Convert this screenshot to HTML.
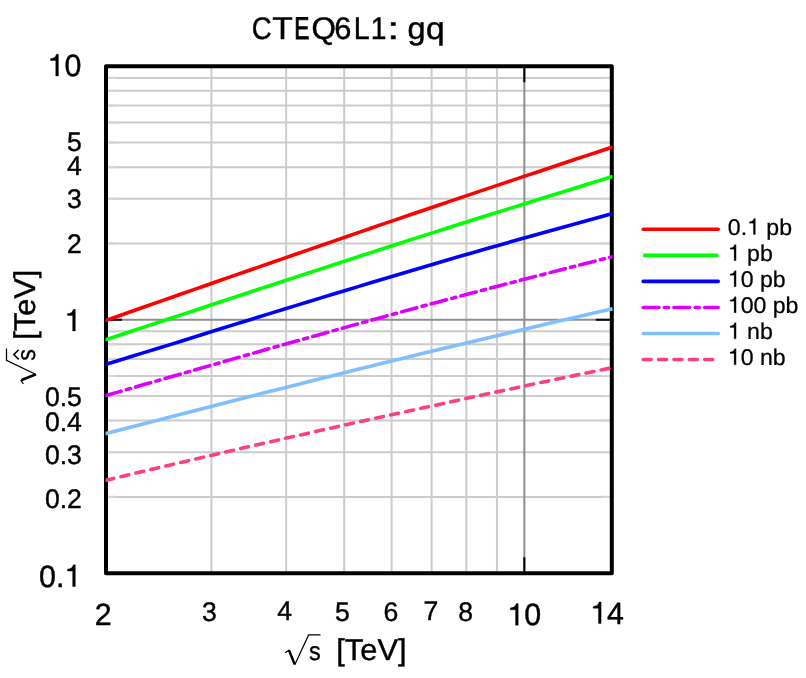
<!DOCTYPE html>
<html><head><meta charset="utf-8"><title>CTEQ6L1: gq</title>
<style>html,body{margin:0;padding:0;background:#fff;overflow:hidden}svg{display:block;will-change:transform}text{font-family:"Liberation Sans",sans-serif;fill:#000;text-rendering:geometricPrecision}</style></head>
<body>
<svg width="806" height="678" viewBox="0 0 806 678">
<rect width="806" height="678" fill="#fff"/>
<path d="M211.39,66.3 V573.2 M286.17,66.3 V573.2 M344.17,66.3 V573.2 M391.56,66.3 V573.2 M431.63,66.3 V573.2 M466.34,66.3 V573.2 M496.95,66.3 V573.2 M106.0,243.45 H611.8 M106.0,496.90 H611.8 M106.0,198.82 H611.8 M106.0,452.27 H611.8 M106.0,167.16 H611.8 M106.0,420.61 H611.8 M106.0,142.60 H611.8 M106.0,396.05 H611.8 M106.0,122.53 H611.8 M106.0,375.98 H611.8 M106.0,105.56 H611.8 M106.0,359.01 H611.8 M106.0,90.86 H611.8 M106.0,344.31 H611.8 M106.0,77.90 H611.8 M106.0,331.35 H611.8" stroke="#cccccc" stroke-width="2.0" fill="none"/>
<path d="M524.34,66.3 V573.2 M106.0,319.75 H611.8" stroke="#8e8e8e" stroke-width="2.0" fill="none"/>
<path d="M106.0,243.45 H116.2 M611.8,243.45 H601.5999999999999 M106.0,496.90 H116.2 M611.8,496.90 H601.5999999999999 M106.0,198.82 H116.2 M611.8,198.82 H601.5999999999999 M106.0,452.27 H116.2 M611.8,452.27 H601.5999999999999 M106.0,167.16 H116.2 M611.8,167.16 H601.5999999999999 M106.0,420.61 H116.2 M611.8,420.61 H601.5999999999999 M106.0,142.60 H116.2 M611.8,142.60 H601.5999999999999 M106.0,396.05 H116.2 M611.8,396.05 H601.5999999999999 M106.0,122.53 H116.2 M611.8,122.53 H601.5999999999999 M106.0,375.98 H116.2 M611.8,375.98 H601.5999999999999 M106.0,105.56 H116.2 M611.8,105.56 H601.5999999999999 M106.0,359.01 H116.2 M611.8,359.01 H601.5999999999999 M106.0,90.86 H116.2 M611.8,90.86 H601.5999999999999 M106.0,344.31 H116.2 M611.8,344.31 H601.5999999999999 M106.0,77.90 H116.2 M611.8,77.90 H601.5999999999999 M106.0,331.35 H116.2 M611.8,331.35 H601.5999999999999" stroke="#d6d6d6" stroke-width="2.2" fill="none"/>
<path d="M524.34,66.3 v16 M524.34,573.2 v-16 M106.0,319.75 h16 M611.8,319.75 h-16" stroke="#000" stroke-width="2.0" fill="none"/>
<rect x="106.0" y="66.3" width="505.80" height="506.90" fill="none" stroke="#000" stroke-width="4.0" stroke-linejoin="round"/>
<clipPath id="c"><rect x="105.5" y="66.3" width="507.00" height="506.90"/></clipPath>
<g clip-path="url(#c)" fill="none" stroke-linecap="round" stroke-linejoin="round">
<path d="M106.00,480.25 L118.64,477.21 L131.29,474.19 L143.94,471.17 L156.58,468.17 L169.22,465.19 L181.87,462.21 L194.51,459.25 L207.16,456.30 L219.81,453.36 L232.45,450.44 L245.09,447.53 L257.74,444.63 L270.38,441.74 L283.03,438.87 L295.67,436.00 L308.32,433.16 L320.97,430.32 L333.61,427.50 L346.25,424.68 L358.90,421.89 L371.55,419.10 L384.19,416.33 L396.83,413.57 L409.48,410.82 L422.12,408.08 L434.77,405.34 L447.41,402.57 L460.06,399.82 L472.70,397.08 L485.35,394.35 L498.00,391.63 L510.64,388.93 L523.28,386.23 L535.93,383.56 L548.58,380.90 L561.22,378.25 L573.87,375.62 L586.51,373.00 L599.15,370.39 L611.80,367.79" stroke="#ff4080" stroke-width="3.6" stroke-dasharray="8 7.37"/>
<path d="M106.00,433.56 L118.64,430.28 L131.29,427.01 L143.94,423.76 L156.58,420.51 L169.22,417.28 L181.87,414.05 L194.51,410.77 L207.16,407.51 L219.81,404.25 L232.45,401.01 L245.09,397.79 L257.74,394.57 L270.38,391.36 L283.03,388.17 L295.67,384.99 L308.32,381.80 L320.97,378.61 L333.61,375.44 L346.25,372.27 L358.90,369.12 L371.55,365.98 L384.19,362.85 L396.83,359.73 L409.48,356.63 L422.12,353.54 L434.77,350.48 L447.41,347.44 L460.06,344.41 L472.70,341.39 L485.35,338.38 L498.00,335.39 L510.64,332.40 L523.28,329.43 L535.93,326.47 L548.58,323.52 L561.22,320.59 L573.87,317.66 L586.51,314.75 L599.15,311.85 L611.80,308.96" stroke="#80bfff" stroke-width="3.6"/>
<path d="M106.00,395.55 L118.64,391.88 L131.29,388.21 L143.94,384.56 L156.58,380.93 L169.22,377.31 L181.87,373.69 L194.51,370.03 L207.16,366.39 L219.81,362.76 L232.45,359.14 L245.09,355.54 L257.74,351.95 L270.38,348.37 L283.03,344.81 L295.67,341.27 L308.32,337.72 L320.97,334.17 L333.61,330.64 L346.25,327.12 L358.90,323.61 L371.55,320.12 L384.19,316.65 L396.83,313.18 L409.48,309.74 L422.12,306.31 L434.77,302.91 L447.41,299.53 L460.06,296.17 L472.70,292.82 L485.35,289.48 L498.00,286.16 L510.64,282.85 L523.28,279.56 L535.93,276.28 L548.58,273.01 L561.22,269.76 L573.87,266.53 L586.51,263.31 L599.15,260.10 L611.80,256.91" stroke="#dd00ff" stroke-width="3.6" stroke-dasharray="15.7 5.5 4.2 5.32"/>
<path d="M106.00,364.34 L118.64,360.41 L131.29,356.50 L143.94,352.61 L156.58,348.73 L169.22,344.86 L181.87,340.99 L194.51,337.00 L207.16,333.03 L219.81,329.07 L232.45,325.13 L245.09,321.20 L257.74,317.30 L270.38,313.40 L283.03,309.52 L295.67,305.62 L308.32,301.73 L320.97,297.86 L333.61,294.01 L346.25,290.18 L358.90,286.36 L371.55,282.55 L384.19,278.76 L396.83,274.98 L409.48,271.22 L422.12,267.47 L434.77,263.74 L447.41,260.03 L460.06,256.33 L472.70,252.65 L485.35,249.01 L498.00,245.42 L510.64,241.84 L523.28,238.28 L535.93,234.74 L548.58,231.22 L561.22,227.71 L573.87,224.22 L586.51,220.75 L599.15,217.29 L611.80,213.85" stroke="#0000ff" stroke-width="3.6"/>
<path d="M106.00,339.62 L118.64,335.43 L131.29,331.25 L143.94,327.09 L156.58,322.92 L169.22,318.77 L181.87,314.62 L194.51,310.42 L207.16,306.23 L219.81,302.05 L232.45,297.88 L245.09,293.72 L257.74,289.56 L270.38,285.42 L283.03,281.28 L295.67,277.12 L308.32,272.98 L320.97,268.84 L333.61,264.71 L346.25,260.59 L358.90,256.48 L371.55,252.39 L384.19,248.30 L396.83,244.22 L409.48,240.16 L422.12,236.13 L434.77,232.10 L447.41,228.09 L460.06,224.08 L472.70,220.08 L485.35,216.09 L498.00,212.11 L510.64,208.14 L523.28,204.18 L535.93,200.23 L548.58,196.29 L561.22,192.36 L573.87,188.44 L586.51,184.53 L599.15,180.62 L611.80,176.73" stroke="#00ff00" stroke-width="3.6"/>
<path d="M106.00,320.38 L118.64,315.93 L131.29,311.49 L143.94,307.05 L156.58,302.62 L169.22,298.21 L181.87,293.79 L194.51,289.37 L207.16,284.95 L219.81,280.55 L232.45,276.15 L245.09,271.76 L257.74,267.38 L270.38,263.01 L283.03,258.63 L295.67,254.23 L308.32,249.84 L320.97,245.45 L333.61,241.08 L346.25,236.71 L358.90,232.35 L371.55,228.00 L384.19,223.66 L396.83,219.33 L409.48,215.02 L422.12,210.72 L434.77,206.43 L447.41,202.15 L460.06,197.88 L472.70,193.62 L485.35,189.37 L498.00,185.12 L510.64,180.88 L523.28,176.65 L535.93,172.43 L548.58,168.22 L561.22,164.01 L573.87,159.82 L586.51,155.63 L599.15,151.45 L611.80,147.28" stroke="#ff0000" stroke-width="3.6"/>
</g>
<text transform="translate(251.80,39.3) scale(0.883,1)" font-size="31.3" stroke="#000" stroke-width="0.45">C</text>
<text transform="translate(272.25,39.3) scale(1.074,1)" font-size="31.3" stroke="#000" stroke-width="0.45">T</text>
<text transform="translate(294.34,39.3) scale(0.725,1)" font-size="31.3" stroke="#000" stroke-width="0.9">E</text>
<text transform="translate(311.52,39.3) scale(1.002,1)" font-size="31.3" stroke="#000" stroke-width="0.45">Q</text>
<text transform="translate(334.24,39.3) scale(0.983,1)" font-size="31.3" stroke="#000" stroke-width="0.45">6</text>
<text transform="translate(353.76,39.3) scale(0.913,1)" font-size="31.3" stroke="#000" stroke-width="0.45">L</text>
<text transform="translate(370.64,39.3) scale(0.904,1)" font-size="31.3" stroke="#000" stroke-width="0.45">1</text>
<text transform="translate(387.27,39.3) scale(1.376,1)" font-size="31.3" stroke="#000" stroke-width="0.45">:</text>
<text transform="translate(407.54,39.3) scale(1.037,1)" font-size="31.3" stroke="#000" stroke-width="0.45">g</text>
<text transform="translate(425.89,39.3) scale(1.072,1)" font-size="31.3" stroke="#000" stroke-width="0.45">q</text>
<path transform="translate(47.49,75.90) scale(0.01484,-0.01502)" d="M735,0 H559 V1026 H207 V1150 C395,1156 540,1215 603,1440 H735 Z" fill="#000" stroke="#000" stroke-width="26.9"/>
<text transform="translate(47.49,75.90) scale(1,1.012)" font-size="30.4" x="16.91" stroke="#000" stroke-width="0.4">0</text>
<text transform="translate(81.90,150.80) scale(1,1.012)" font-size="26.6" text-anchor="end" stroke="#000" stroke-width="0.4">5</text>
<text transform="translate(81.90,175.30) scale(1,1.012)" font-size="26.6" text-anchor="end" stroke="#000" stroke-width="0.4">4</text>
<text transform="translate(81.90,207.90) scale(1,1.012)" font-size="26.6" text-anchor="end" stroke="#000" stroke-width="0.4">3</text>
<text transform="translate(81.90,252.60) scale(1,1.012)" font-size="26.6" text-anchor="end" stroke="#000" stroke-width="0.4">2</text>
<path transform="translate(64.39,331.00) scale(0.01484,-0.01502)" d="M735,0 H559 V1026 H207 V1150 C395,1156 540,1215 603,1440 H735 Z" fill="#000" stroke="#000" stroke-width="26.9"/>
<text transform="translate(81.90,406.40) scale(1,1.012)" font-size="26.6" text-anchor="end" stroke="#000" stroke-width="0.4">0.5</text>
<text transform="translate(81.90,431.00) scale(1,1.012)" font-size="26.6" text-anchor="end" stroke="#000" stroke-width="0.4">0.4</text>
<text transform="translate(81.90,463.60) scale(1,1.012)" font-size="26.6" text-anchor="end" stroke="#000" stroke-width="0.4">0.3</text>
<text transform="translate(81.90,508.20) scale(1,1.012)" font-size="26.6" text-anchor="end" stroke="#000" stroke-width="0.4">0.2</text>
<path transform="translate(64.39,586.50) scale(0.01484,-0.01502)" d="M735,0 H559 V1026 H207 V1150 C395,1156 540,1215 603,1440 H735 Z" fill="#000" stroke="#000" stroke-width="26.9"/>
<text transform="translate(39.04,586.50) scale(1,1.012)" font-size="30.4" x="0.00 16.91" stroke="#000" stroke-width="0.4">0.</text>
<text transform="translate(103.30,624.90) scale(1,1.012)" font-size="30.4" text-anchor="middle" stroke="#000" stroke-width="0.4">2</text>
<text transform="translate(209.50,620.60) scale(1,1.012)" font-size="26.6" text-anchor="middle" stroke="#000" stroke-width="0.4">3</text>
<text transform="translate(284.60,620.40) scale(1,1.012)" font-size="26.6" text-anchor="middle" stroke="#000" stroke-width="0.4">4</text>
<text transform="translate(342.40,620.60) scale(1,1.012)" font-size="26.6" text-anchor="middle" stroke="#000" stroke-width="0.4">5</text>
<text transform="translate(390.90,620.60) scale(1,1.012)" font-size="26.6" text-anchor="middle" stroke="#000" stroke-width="0.4">6</text>
<text transform="translate(431.00,620.40) scale(1,1.012)" font-size="26.6" text-anchor="middle" stroke="#000" stroke-width="0.4">7</text>
<text transform="translate(465.70,620.60) scale(1,1.012)" font-size="26.6" text-anchor="middle" stroke="#000" stroke-width="0.4">8</text>
<path transform="translate(507.29,625.20) scale(0.01484,-0.01502)" d="M735,0 H559 V1026 H207 V1150 C395,1156 540,1215 603,1440 H735 Z" fill="#000" stroke="#000" stroke-width="26.9"/>
<text transform="translate(507.29,625.20) scale(1,1.012)" font-size="30.4" x="16.91" stroke="#000" stroke-width="0.4">0</text>
<path transform="translate(590.19,623.60) scale(0.01484,-0.01502)" d="M735,0 H559 V1026 H207 V1150 C395,1156 540,1215 603,1440 H735 Z" fill="#000" stroke="#000" stroke-width="26.9"/>
<text transform="translate(590.19,623.60) scale(1,1.012)" font-size="30.4" x="16.91" stroke="#000" stroke-width="0.4">4</text>
<text transform="translate(336.30,660.30) scale(1,0.975)" font-size="30.8" stroke="#000" stroke-width="0.4">[TeV]</text>
<text transform="translate(308.90,659.60) scale(0.9,1.0)" font-size="26" stroke="#000" stroke-width="0.3">s</text>
<path d="M285.2,652.7 L289.0,650.2 L294.6,664.0" stroke="#000" stroke-width="1.2" fill="none"/><path d="M289.0,650.2 L294.6,664.3" stroke="#000" stroke-width="2.4" fill="none"/><path d="M294.7,664.9 L308.6,634.9 H320.5" stroke="#000" stroke-width="1.2" fill="none" stroke-linejoin="miter"/>
<g transform="translate(34.8,0) rotate(-90)">
<text transform="translate(-339.80,0.00) scale(1,0.975)" font-size="30.8" stroke="#000" stroke-width="0.4">[TeV]</text>
<text transform="translate(-360.70,0.20) scale(0.9,1.0)" font-size="26" stroke="#000" stroke-width="0.3">s</text>
</g>
<path d="M6.5,348.6 V360.3 L36.0,374.5" stroke="#000" stroke-width="1.25" fill="none" stroke-linejoin="miter"/><path d="M35.7,374.3 L21.6,380.0" stroke="#000" stroke-width="2.5" fill="none"/><path d="M36.2,374.6 L21.0,380.5 L23.4,383.8" stroke="#000" stroke-width="1.2" fill="none"/>
<path d="M18.7,359.4 L13.8,354.6 L18.7,349.8" stroke="#000" stroke-width="1.5" fill="none" stroke-linejoin="miter"/>
<path d="M643.2,229.30 H718.2" stroke="#ff0000" stroke-width="3.6" stroke-linecap="round" fill="none"/>
<path transform="translate(747.07,234.60) scale(0.01128,-0.01111)" d="M735,0 H559 V1026 H207 V1150 C395,1156 540,1215 603,1440 H735 Z" fill="#000" stroke="#000" stroke-width="22.2"/>
<text transform="translate(727.80,234.60) scale(1,0.985)" font-size="23.1" x="0.00 12.85 38.53 51.38" stroke="#000" stroke-width="0.25">0.pb</text>
<path d="M643.2,255.35 H718.2" stroke="#00ff00" stroke-width="3.6" stroke-linecap="butt" fill="none"/>
<path transform="translate(727.80,260.65) scale(0.01128,-0.01111)" d="M735,0 H559 V1026 H207 V1150 C395,1156 540,1215 603,1440 H735 Z" fill="#000" stroke="#000" stroke-width="22.2"/>
<text transform="translate(727.80,260.65) scale(1,0.985)" font-size="23.1" x="19.27 32.11" stroke="#000" stroke-width="0.25">pb</text>
<path d="M643.2,281.40 H718.2" stroke="#0000ff" stroke-width="3.6" stroke-linecap="round" fill="none"/>
<path transform="translate(727.80,286.70) scale(0.01128,-0.01111)" d="M735,0 H559 V1026 H207 V1150 C395,1156 540,1215 603,1440 H735 Z" fill="#000" stroke="#000" stroke-width="22.2"/>
<text transform="translate(727.80,286.70) scale(1,0.985)" font-size="23.1" x="12.85 32.11 44.96" stroke="#000" stroke-width="0.25">0pb</text>
<path d="M643.2,307.45 H718.2" stroke="#dd00ff" stroke-width="3.6" stroke-linecap="round" fill="none" stroke-dasharray="15.7 5.5 4.2 5.32"/>
<path transform="translate(727.80,312.75) scale(0.01128,-0.01111)" d="M735,0 H559 V1026 H207 V1150 C395,1156 540,1215 603,1440 H735 Z" fill="#000" stroke="#000" stroke-width="22.2"/>
<text transform="translate(727.80,312.75) scale(1,0.985)" font-size="23.1" x="12.85 25.69 44.96 57.81" stroke="#000" stroke-width="0.25">00pb</text>
<path d="M643.2,333.50 H718.2" stroke="#80bfff" stroke-width="3.6" stroke-linecap="round" fill="none"/>
<path transform="translate(727.80,338.80) scale(0.01128,-0.01111)" d="M735,0 H559 V1026 H207 V1150 C395,1156 540,1215 603,1440 H735 Z" fill="#000" stroke="#000" stroke-width="22.2"/>
<text transform="translate(727.80,338.80) scale(1,0.985)" font-size="23.1" x="19.27 32.11" stroke="#000" stroke-width="0.25">nb</text>
<path d="M643.2,359.55 H718.2" stroke="#ff4080" stroke-width="3.6" stroke-linecap="round" fill="none" stroke-dasharray="8 7.37"/>
<path transform="translate(727.80,364.85) scale(0.01128,-0.01111)" d="M735,0 H559 V1026 H207 V1150 C395,1156 540,1215 603,1440 H735 Z" fill="#000" stroke="#000" stroke-width="22.2"/>
<text transform="translate(727.80,364.85) scale(1,0.985)" font-size="23.1" x="12.85 32.11 44.96" stroke="#000" stroke-width="0.25">0nb</text>
</svg>
</body></html>
